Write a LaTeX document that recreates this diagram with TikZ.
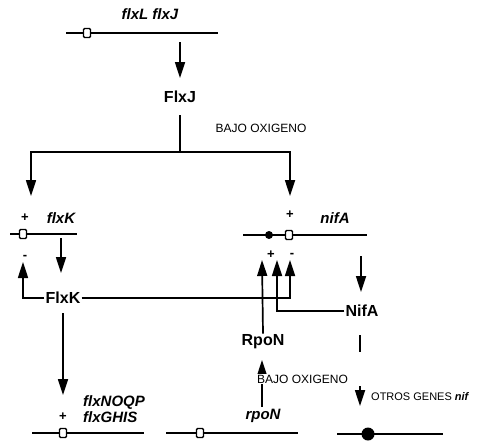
\documentclass[tikz,border=0pt]{standalone}
\usepackage{fontspec}
\setmainfont{Liberation Sans}
\usetikzlibrary{arrows.meta}
\begin{document}
\begin{tikzpicture}[x=1pt,y=-1pt,
 conn/.style={line width=1.7pt},
 arr/.style={conn,-{Triangle[width=10pt,length=16pt]}},
 gene/.style={line width=1.2pt},
 promo/.style={draw,fill=white,line width=1.4pt,minimum width=7pt,minimum height=9pt,inner sep=0pt,rounded corners=1.2pt},
 dotp/.style={circle,fill=black,inner sep=0pt,minimum size=8pt},
 gtext/.style={font=\fontsize{15}{17}\selectfont\bfseries\itshape,inner sep=0pt},
 ptext/.style={font=\fontsize{16}{18}\selectfont\bfseries,inner sep=1pt},
 small/.style={font=\fontsize{12}{14}\selectfont,inner sep=0pt},
 sign/.style={font=\fontsize{13}{13}\selectfont\bfseries,inner sep=0pt}]
\fill[white] (0,0) rectangle (502,442);
\useasboundingbox (0,0) rectangle (502,442);

% gene flxL flxJ
\coordinate (g1l) at (66,33); \coordinate (g1r) at (218,33);
\draw[gene] (g1l) -- (g1r);
\node[promo] (p1) at (87,33) {};
\node[gtext] (t1) at (150,14) {flxL flxJ};
\coordinate (a1s) at (180,42); \coordinate (a1e) at (180,78);
\draw[arr] (a1s) -- (a1e);
\node[ptext] (FlxJ) at (180,97) {FlxJ};

% branching
\coordinate (b0) at (180,115); \coordinate (b1) at (180,152);
\coordinate (kTip) at (31,196); \coordinate (nTip) at (290,196);
\draw[conn] (b0) -- (b1);
\draw[arr] (b1) -| (kTip);
\draw[arr] (b1) -| (nTip);
\node[small] (bajo1) at (261,128) {BAJO OXIGENO};

% flxK gene
\coordinate (g2l) at (10,234); \coordinate (g2r) at (77,234);
\draw[gene] (g2l) -- (g2r);
\node[promo] (p2) at (23,234) {};
\node[sign] (s2p) at (25,218) {+};
\node[sign] (s2m) at (25,257) {-};
\node[gtext] (t2) at (61,218) {flxK};
\coordinate (a2s) at (61,238); \coordinate (a2e) at (61,273);
\draw[arr] (a2s) -- (a2e);

% FlxK
\node[ptext] (FlxK) at (63,298) {FlxK};
\coordinate (kNeg) at (23,262);
\coordinate (nNeg) at (290,260);
\draw[arr] (FlxK.west) -| (kNeg);
\draw[arr] (FlxK.east) -| (nNeg);

% nifA gene
\coordinate (g3l) at (243,235); \coordinate (g3r) at (367,235);
\draw[gene] (g3l) -- (g3r);
\node[dotp] (d3) at (269,235) {};
\node[promo] (p3) at (289,235) {};
\node[sign] (s3p) at (290,215) {+};
\node[sign] (s3a) at (271,255) {+};
\node[sign] (s3b) at (292,255) {-};
\node[gtext] (t3) at (335,218) {nifA};
\coordinate (a3s) at (361,256); \coordinate (a3e) at (361,292);
\draw[arr] (a3s) -- (a3e);

% NifA
\node[ptext] (NifA) at (362,311) {NifA};
\coordinate (nMid) at (277,260);
\draw[arr] (NifA.west) -| (nMid);

% RpoN
\node[ptext] (RpoN) at (263,342) {RpoN};
\coordinate (nPlus) at (262,260);
\draw[arr] (RpoN.north) -- (nPlus);

% rpoN gene
\coordinate (g4l) at (166,433); \coordinate (g4r) at (298,433);
\draw[gene] (g4l) -- (g4r);
\node[promo] (p4) at (200,433) {};
\node[gtext] (t4) at (263,416) {rpoN};
\coordinate (r0) at (262,407); \coordinate (rTip) at (262,360);
\draw[arr] (r0) -- (rTip);
\node[small,fill=white,anchor=west,inner sep=1pt] (bajo2) at (256,379) {BAJO OXIGENO};

% NifA down
\coordinate (n0) at (360,335); \coordinate (n1) at (360,352);
\draw[conn] (n0) -- (n1);
\coordinate (n2) at (360,386); \coordinate (n3) at (360,406);
\draw[arr] (n2) -- (n3);
\node[font=\fontsize{11}{12}\selectfont,inner sep=0pt,anchor=west] (otros) at (371,397) {OTROS GENES \textbf{\textit{nif}}};

% bottom right gene
\coordinate (g5l) at (337,434); \coordinate (g5r) at (443,434);
\draw[gene] (g5l) -- (g5r);
\node[dotp,minimum size=13pt] (d5) at (368,434) {};

% flxNOQP gene
\coordinate (g6l) at (32,433); \coordinate (g6r) at (144,433);
\draw[gene] (g6l) -- (g6r);
\node[promo] (p6) at (63,433) {};
\node[sign] (s6p) at (63,417) {+};
\node[gtext,anchor=west] (t6a) at (83,403) {flxNOQP};
\node[gtext,anchor=west] (t6b) at (83,417) {flxGHIS};
\coordinate (a6s) at (63,313); \coordinate (a6e) at (63,395);
\draw[arr] (a6s) -- (a6e);
\end{tikzpicture}
\end{document}
